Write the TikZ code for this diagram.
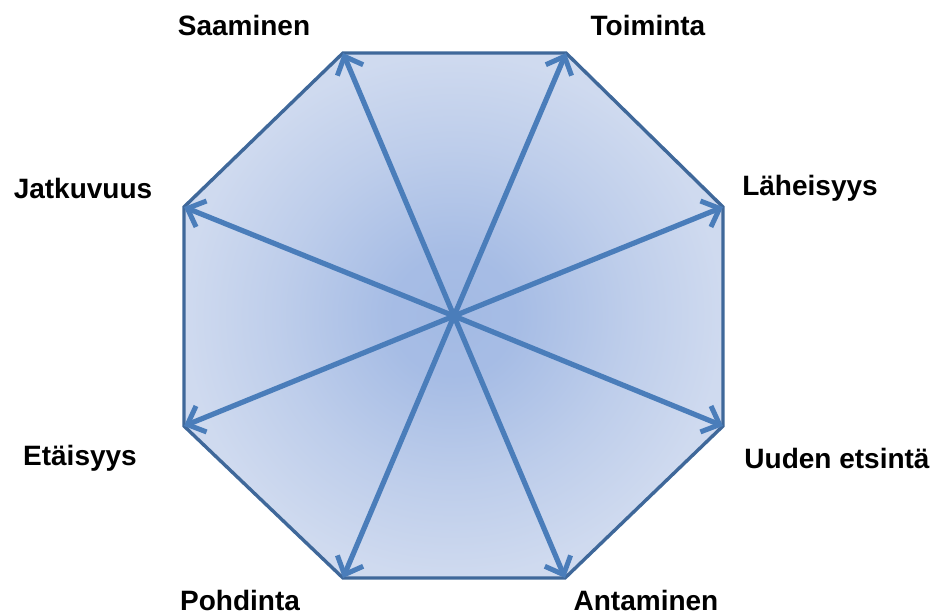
\documentclass[tikz,border=0pt]{standalone}
\usepackage{fontspec}
\setmainfont{Liberation Sans}
\usetikzlibrary{arrows.meta}
\definecolor{edgeblue}{HTML}{3F689A}
\definecolor{arrowblue}{HTML}{4A7DBA}
\definecolor{cin}{HTML}{A3BAE4}
\definecolor{cout}{HTML}{CFDAEF}
\pgfdeclareradialshading{octshade}{\pgfpoint{0bp}{0bp}}{color(0bp)=(cin); color(6bp)=(cin!92!cout); color(16bp)=(cin!40!cout); color(25bp)=(cout); color(50bp)=(cout)}
\tikzset{
  lbl/.style={font=\bfseries\fontsize{28}{32}\selectfont, text=black, inner sep=0pt},
  ray/.style={draw=arrowblue, line width=5.2pt, -{Straight Barb[length=15pt,width=28pt,line width=5pt]}},
  octa/.style={draw=edgeblue, line width=3.4pt, line join=miter, shading=octshade}
}
\begin{document}
\begin{tikzpicture}[x=1pt,y=-1pt]
\useasboundingbox (0,0) rectangle (935,616);
\coordinate (v1) at (343,53);
\coordinate (v2) at (566,53);
\coordinate (v3) at (723,207);
\coordinate (v4) at (723,426);
\coordinate (v5) at (565,578);
\coordinate (v6) at (343,578);
\coordinate (v7) at (184,426);
\coordinate (v8) at (184,207);
\coordinate (c) at (454,316);
\path[octa] (v1) -- (v2) -- (v3) -- (v4) -- (v5) -- (v6) -- (v7) -- (v8) -- cycle;
\foreach \v in {v1,v2,v3,v4,v5,v6,v7,v8}{\draw[ray] (c) -- (\v);}
\node[lbl] (l1) at (244,25) {Saaminen};
\node[lbl] (l2) at (648,25) {Toiminta};
\node[lbl] (l3) at (810,188) {Läheisyys};
\node[lbl] (l4) at (837,458) {Uuden etsintä};
\node[lbl] (l5) at (646,600) {Antaminen};
\node[lbl] (l6) at (240,600) {Pohdinta};
\node[lbl] (l7) at (80,458) {Etäisyys};
\node[lbl] (l8) at (83,188) {Jatkuvuus};
\end{tikzpicture}
\end{document}
